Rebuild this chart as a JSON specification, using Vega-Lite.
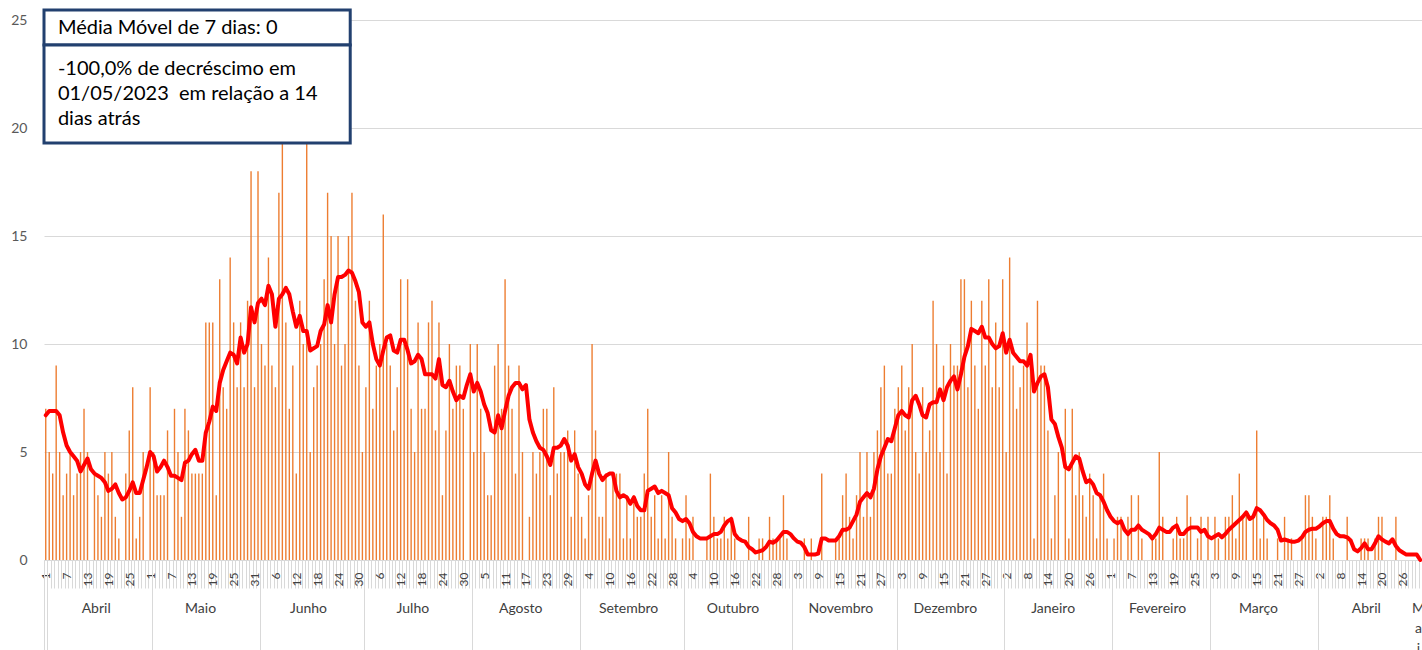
{
"$schema": "https://vega.github.io/schema/vega-lite/v6.json",
"width": 1378, "height": 540,
"autosize": "none",
"padding": {"left": 44, "top": 20, "right": 0, "bottom": 90},
"background": "white",
"config": {"view": {"stroke": null}, "font": "Lato"},
"resolve": {"axis": {"x": "independent"}},
"data": {"values": [
{"d":"2022-04-01","v":7,"m":6.7},{"d":"2022-04-02","v":5,"m":6.9},{"d":"2022-04-03","v":4,"m":6.9},{"d":"2022-04-04","v":9,"m":6.9},{"d":"2022-04-05","v":5,"m":6.7},{"d":"2022-04-06","v":3,"m":5.9},{"d":"2022-04-07","v":4,"m":5.3},{"d":"2022-04-08","v":5,"m":5.0},{"d":"2022-04-09","v":3,"m":4.8},{"d":"2022-04-10","v":4,"m":4.6},
{"d":"2022-04-11","v":5,"m":4.1},{"d":"2022-04-12","v":7,"m":4.4},{"d":"2022-04-13","v":5,"m":4.7},{"d":"2022-04-14","v":0,"m":4.2},{"d":"2022-04-15","v":4,"m":4.0},{"d":"2022-04-16","v":3,"m":3.9},{"d":"2022-04-17","v":2,"m":3.8},{"d":"2022-04-18","v":5,"m":3.6},{"d":"2022-04-19","v":4,"m":3.2},{"d":"2022-04-20","v":5,"m":3.3},
{"d":"2022-04-21","v":2,"m":3.5},{"d":"2022-04-22","v":1,"m":3.1},{"d":"2022-04-23","v":0,"m":2.8},{"d":"2022-04-24","v":4,"m":2.9},{"d":"2022-04-25","v":6,"m":3.2},{"d":"2022-04-26","v":8,"m":3.6},{"d":"2022-04-27","v":1,"m":3.1},{"d":"2022-04-28","v":2,"m":3.1},{"d":"2022-04-29","v":5,"m":3.7},{"d":"2022-04-30","v":0,"m":4.3},
{"d":"2022-05-01","v":8,"m":5.0},{"d":"2022-05-02","v":5,"m":4.8},{"d":"2022-05-03","v":3,"m":4.1},{"d":"2022-05-04","v":3,"m":4.3},{"d":"2022-05-05","v":3,"m":4.6},{"d":"2022-05-06","v":6,"m":4.3},{"d":"2022-05-07","v":0,"m":3.9},{"d":"2022-05-08","v":7,"m":3.9},{"d":"2022-05-09","v":5,"m":3.8},{"d":"2022-05-10","v":2,"m":3.7},
{"d":"2022-05-11","v":7,"m":4.5},{"d":"2022-05-12","v":6,"m":4.6},{"d":"2022-05-13","v":4,"m":4.9},{"d":"2022-05-14","v":4,"m":5.1},{"d":"2022-05-15","v":4,"m":4.6},{"d":"2022-05-16","v":4,"m":4.6},{"d":"2022-05-17","v":11,"m":5.9},{"d":"2022-05-18","v":11,"m":6.4},{"d":"2022-05-19","v":11,"m":7.1},{"d":"2022-05-20","v":3,"m":6.9},
{"d":"2022-05-21","v":13,"m":8.2},{"d":"2022-05-22","v":8,"m":8.8},{"d":"2022-05-23","v":7,"m":9.2},{"d":"2022-05-24","v":14,"m":9.6},{"d":"2022-05-25","v":11,"m":9.5},{"d":"2022-05-26","v":8,"m":9.1},{"d":"2022-05-27","v":11,"m":10.3},{"d":"2022-05-28","v":8,"m":9.6},{"d":"2022-05-29","v":12,"m":10.0},{"d":"2022-05-30","v":18,"m":11.7},{"d":"2022-05-31","v":8,"m":11.0},
{"d":"2022-06-01","v":18,"m":11.9},{"d":"2022-06-02","v":10,"m":12.1},{"d":"2022-06-03","v":9,"m":11.8},{"d":"2022-06-04","v":14,"m":12.7},{"d":"2022-06-05","v":9,"m":12.3},{"d":"2022-06-06","v":8,"m":10.8},{"d":"2022-06-07","v":17,"m":12.1},{"d":"2022-06-08","v":20,"m":12.3},{"d":"2022-06-09","v":11,"m":12.6},{"d":"2022-06-10","v":7,"m":12.3},
{"d":"2022-06-11","v":9,"m":11.5},{"d":"2022-06-12","v":4,"m":10.8},{"d":"2022-06-13","v":12,"m":11.3},{"d":"2022-06-14","v":10,"m":10.6},{"d":"2022-06-15","v":20,"m":10.6},{"d":"2022-06-16","v":5,"m":9.7},{"d":"2022-06-17","v":8,"m":9.8},{"d":"2022-06-18","v":9,"m":9.9},{"d":"2022-06-19","v":10,"m":10.6},{"d":"2022-06-20","v":13,"m":10.9},
{"d":"2022-06-21","v":17,"m":11.8},{"d":"2022-06-22","v":15,"m":11.0},{"d":"2022-06-23","v":10,"m":12.3},{"d":"2022-06-24","v":15,"m":13.1},{"d":"2022-06-25","v":9,"m":13.1},{"d":"2022-06-26","v":10,"m":13.2},{"d":"2022-06-27","v":15,"m":13.4},{"d":"2022-06-28","v":17,"m":13.3},{"d":"2022-06-29","v":12,"m":12.9},{"d":"2022-06-30","v":9,"m":12.4},
{"d":"2022-07-01","v":5,"m":11.0},{"d":"2022-07-02","v":8,"m":10.8},{"d":"2022-07-03","v":12,"m":11.0},{"d":"2022-07-04","v":7,"m":10.0},{"d":"2022-07-05","v":9,"m":9.3},{"d":"2022-07-06","v":10,"m":9.0},{"d":"2022-07-07","v":16,"m":9.7},{"d":"2022-07-08","v":10,"m":10.3},{"d":"2022-07-09","v":9,"m":10.4},{"d":"2022-07-10","v":6,"m":9.7},
{"d":"2022-07-11","v":8,"m":9.6},{"d":"2022-07-12","v":13,"m":10.2},{"d":"2022-07-13","v":10,"m":10.2},{"d":"2022-07-14","v":13,"m":9.7},{"d":"2022-07-15","v":7,"m":9.1},{"d":"2022-07-16","v":5,"m":9.2},{"d":"2022-07-17","v":11,"m":9.5},{"d":"2022-07-18","v":7,"m":9.3},{"d":"2022-07-19","v":7,"m":8.6},{"d":"2022-07-20","v":11,"m":8.6},
{"d":"2022-07-21","v":12,"m":8.6},{"d":"2022-07-22","v":6,"m":8.4},{"d":"2022-07-23","v":11,"m":9.3},{"d":"2022-07-24","v":3,"m":8.1},{"d":"2022-07-25","v":6,"m":8.0},{"d":"2022-07-26","v":10,"m":8.3},{"d":"2022-07-27","v":7,"m":7.8},{"d":"2022-07-28","v":9,"m":7.4},{"d":"2022-07-29","v":9,"m":7.6},{"d":"2022-07-30","v":7,"m":7.5},{"d":"2022-07-31","v":0,"m":8.1},
{"d":"2022-08-01","v":10,"m":8.6},{"d":"2022-08-02","v":5,"m":7.8},{"d":"2022-08-03","v":10,"m":8.2},{"d":"2022-08-04","v":7,"m":7.8},{"d":"2022-08-05","v":5,"m":7.2},{"d":"2022-08-06","v":3,"m":6.8},{"d":"2022-08-07","v":3,"m":6.0},{"d":"2022-08-08","v":9,"m":5.9},{"d":"2022-08-09","v":10,"m":6.7},{"d":"2022-08-10","v":7,"m":6.1},
{"d":"2022-08-11","v":13,"m":6.9},{"d":"2022-08-12","v":9,"m":7.6},{"d":"2022-08-13","v":7,"m":8.0},{"d":"2022-08-14","v":4,"m":8.2},{"d":"2022-08-15","v":9,"m":8.2},{"d":"2022-08-16","v":5,"m":7.9},{"d":"2022-08-17","v":0,"m":8.1},{"d":"2022-08-18","v":2,"m":6.5},{"d":"2022-08-19","v":5,"m":5.9},{"d":"2022-08-20","v":4,"m":5.5},
{"d":"2022-08-21","v":5,"m":5.2},{"d":"2022-08-22","v":7,"m":5.1},{"d":"2022-08-23","v":7,"m":4.8},{"d":"2022-08-24","v":3,"m":4.4},{"d":"2022-08-25","v":8,"m":5.2},{"d":"2022-08-26","v":4,"m":5.2},{"d":"2022-08-27","v":5,"m":5.3},{"d":"2022-08-28","v":5,"m":5.6},{"d":"2022-08-29","v":6,"m":5.3},{"d":"2022-08-30","v":2,"m":4.6},{"d":"2022-08-31","v":6,"m":4.9},
{"d":"2022-09-01","v":4,"m":4.3},{"d":"2022-09-02","v":2,"m":4.0},{"d":"2022-09-03","v":1,"m":3.5},{"d":"2022-09-04","v":3,"m":3.3},{"d":"2022-09-05","v":10,"m":4.0},{"d":"2022-09-06","v":6,"m":4.6},{"d":"2022-09-07","v":2,"m":4.0},{"d":"2022-09-08","v":2,"m":3.7},{"d":"2022-09-09","v":4,"m":3.9},{"d":"2022-09-10","v":1,"m":4.0},
{"d":"2022-09-11","v":4,"m":4.0},{"d":"2022-09-12","v":4,"m":3.2},{"d":"2022-09-13","v":4,"m":2.9},{"d":"2022-09-14","v":1,"m":3.0},{"d":"2022-09-15","v":3,"m":2.9},{"d":"2022-09-16","v":1,"m":2.6},{"d":"2022-09-17","v":3,"m":2.9},{"d":"2022-09-18","v":2,"m":2.5},{"d":"2022-09-19","v":2,"m":2.3},{"d":"2022-09-20","v":4,"m":2.3},
{"d":"2022-09-21","v":7,"m":3.2},{"d":"2022-09-22","v":2,"m":3.3},{"d":"2022-09-23","v":3,"m":3.4},{"d":"2022-09-24","v":1,"m":3.1},{"d":"2022-09-25","v":3,"m":3.2},{"d":"2022-09-26","v":1,"m":3.1},{"d":"2022-09-27","v":5,"m":3.0},{"d":"2022-09-28","v":2,"m":2.4},{"d":"2022-09-29","v":1,"m":2.2},{"d":"2022-09-30","v":0,"m":1.9},
{"d":"2022-10-01","v":1,"m":1.8},{"d":"2022-10-02","v":3,"m":1.9},{"d":"2022-10-03","v":1,"m":1.7},{"d":"2022-10-04","v":2,"m":1.3},{"d":"2022-10-05","v":0,"m":1.1},{"d":"2022-10-06","v":0,"m":1.0},{"d":"2022-10-07","v":0,"m":1.0},{"d":"2022-10-08","v":1,"m":1.0},{"d":"2022-10-09","v":4,"m":1.1},{"d":"2022-10-10","v":2,"m":1.2},
{"d":"2022-10-11","v":1,"m":1.2},{"d":"2022-10-12","v":1,"m":1.3},{"d":"2022-10-13","v":2,"m":1.6},{"d":"2022-10-14","v":1,"m":1.8},{"d":"2022-10-15","v":2,"m":1.9},{"d":"2022-10-16","v":1,"m":1.2},{"d":"2022-10-17","v":0,"m":1.0},{"d":"2022-10-18","v":0,"m":0.9},{"d":"2022-10-19","v":0,"m":0.85},{"d":"2022-10-20","v":2,"m":0.6},
{"d":"2022-10-21","v":0,"m":0.5},{"d":"2022-10-22","v":0,"m":0.35},{"d":"2022-10-23","v":1,"m":0.4},{"d":"2022-10-24","v":1,"m":0.45},{"d":"2022-10-25","v":0,"m":0.6},{"d":"2022-10-26","v":2,"m":0.85},{"d":"2022-10-27","v":1,"m":0.8},{"d":"2022-10-28","v":1,"m":0.9},{"d":"2022-10-29","v":1,"m":1.1},{"d":"2022-10-30","v":3,"m":1.3},{"d":"2022-10-31","v":1,"m":1.3},
{"d":"2022-11-01","v":0,"m":1.2},{"d":"2022-11-02","v":0,"m":1.0},{"d":"2022-11-03","v":0,"m":0.85},{"d":"2022-11-04","v":0,"m":0.8},{"d":"2022-11-05","v":1,"m":0.6},{"d":"2022-11-06","v":0,"m":0.25},{"d":"2022-11-07","v":1,"m":0.25},{"d":"2022-11-08","v":0,"m":0.25},{"d":"2022-11-09","v":0,"m":0.3},{"d":"2022-11-10","v":4,"m":1.0},
{"d":"2022-11-11","v":0,"m":1.0},{"d":"2022-11-12","v":0,"m":0.9},{"d":"2022-11-13","v":0,"m":0.9},{"d":"2022-11-14","v":1,"m":0.9},{"d":"2022-11-15","v":1,"m":1.1},{"d":"2022-11-16","v":3,"m":1.4},{"d":"2022-11-17","v":4,"m":1.4},{"d":"2022-11-18","v":2,"m":1.5},{"d":"2022-11-19","v":1,"m":1.8},{"d":"2022-11-20","v":3,"m":2.1},
{"d":"2022-11-21","v":5,"m":2.7},{"d":"2022-11-22","v":2,"m":2.9},{"d":"2022-11-23","v":5,"m":3.1},{"d":"2022-11-24","v":2,"m":2.9},{"d":"2022-11-25","v":5,"m":3.3},{"d":"2022-11-26","v":6,"m":4.2},{"d":"2022-11-27","v":8,"m":4.8},{"d":"2022-11-28","v":9,"m":5.2},{"d":"2022-11-29","v":4,"m":5.6},{"d":"2022-11-30","v":4,"m":5.5},
{"d":"2022-12-01","v":7,"m":6.1},{"d":"2022-12-02","v":8,"m":6.7},{"d":"2022-12-03","v":9,"m":6.9},{"d":"2022-12-04","v":6,"m":6.7},{"d":"2022-12-05","v":8,"m":6.6},{"d":"2022-12-06","v":10,"m":7.4},{"d":"2022-12-07","v":5,"m":7.6},{"d":"2022-12-08","v":4,"m":7.2},{"d":"2022-12-09","v":8,"m":6.7},{"d":"2022-12-10","v":5,"m":6.6},
{"d":"2022-12-11","v":6,"m":7.2},{"d":"2022-12-12","v":12,"m":7.3},{"d":"2022-12-13","v":10,"m":7.3},{"d":"2022-12-14","v":5,"m":7.9},{"d":"2022-12-15","v":9,"m":7.4},{"d":"2022-12-16","v":4,"m":8.0},{"d":"2022-12-17","v":10,"m":8.3},{"d":"2022-12-18","v":9,"m":8.5},{"d":"2022-12-19","v":9,"m":7.9},{"d":"2022-12-20","v":13,"m":8.6},
{"d":"2022-12-21","v":13,"m":9.4},{"d":"2022-12-22","v":8,"m":9.9},{"d":"2022-12-23","v":12,"m":10.7},{"d":"2022-12-24","v":9,"m":10.6},{"d":"2022-12-25","v":7,"m":10.5},{"d":"2022-12-26","v":12,"m":10.8},{"d":"2022-12-27","v":9,"m":10.3},{"d":"2022-12-28","v":13,"m":10.3},{"d":"2022-12-29","v":8,"m":10.0},{"d":"2022-12-30","v":11,"m":9.8},{"d":"2022-12-31","v":8,"m":9.9},
{"d":"2023-01-01","v":13,"m":10.5},{"d":"2023-01-02","v":5,"m":9.6},{"d":"2023-01-03","v":14,"m":10.2},{"d":"2023-01-04","v":9,"m":9.6},{"d":"2023-01-05","v":7,"m":9.4},{"d":"2023-01-06","v":8,"m":9.2},{"d":"2023-01-07","v":9,"m":9.2},{"d":"2023-01-08","v":11,"m":9.0},{"d":"2023-01-09","v":9,"m":9.5},{"d":"2023-01-10","v":1,"m":7.8},
{"d":"2023-01-11","v":12,"m":8.2},{"d":"2023-01-12","v":9,"m":8.5},{"d":"2023-01-13","v":9,"m":8.6},{"d":"2023-01-14","v":6,"m":8.0},{"d":"2023-01-15","v":1,"m":6.5},{"d":"2023-01-16","v":3,"m":6.3},{"d":"2023-01-17","v":5,"m":5.7},{"d":"2023-01-18","v":0,"m":5.2},{"d":"2023-01-19","v":7,"m":4.3},{"d":"2023-01-20","v":1,"m":4.2},
{"d":"2023-01-21","v":7,"m":4.5},{"d":"2023-01-22","v":3,"m":4.8},{"d":"2023-01-23","v":5,"m":4.7},{"d":"2023-01-24","v":3,"m":4.1},{"d":"2023-01-25","v":2,"m":3.6},{"d":"2023-01-26","v":4,"m":3.7},{"d":"2023-01-27","v":3,"m":3.5},{"d":"2023-01-28","v":1,"m":3.1},{"d":"2023-01-29","v":3,"m":3.0},{"d":"2023-01-30","v":4,"m":2.7},{"d":"2023-01-31","v":1,"m":2.3},
{"d":"2023-02-01","v":0,"m":2.0},{"d":"2023-02-02","v":1,"m":1.8},{"d":"2023-02-03","v":2,"m":1.7},{"d":"2023-02-04","v":2,"m":1.8},{"d":"2023-02-05","v":0,"m":1.4},{"d":"2023-02-06","v":2,"m":1.2},{"d":"2023-02-07","v":3,"m":1.4},{"d":"2023-02-08","v":0,"m":1.4},{"d":"2023-02-09","v":3,"m":1.6},{"d":"2023-02-10","v":1,"m":1.4},
{"d":"2023-02-11","v":0,"m":1.3},{"d":"2023-02-12","v":0,"m":1.2},{"d":"2023-02-13","v":1,"m":1.0},{"d":"2023-02-14","v":1,"m":1.2},{"d":"2023-02-15","v":5,"m":1.5},{"d":"2023-02-16","v":2,"m":1.4},{"d":"2023-02-17","v":0,"m":1.3},{"d":"2023-02-18","v":0,"m":1.3},{"d":"2023-02-19","v":1,"m":1.5},{"d":"2023-02-20","v":2,"m":1.6},
{"d":"2023-02-21","v":1,"m":1.2},{"d":"2023-02-22","v":1,"m":1.2},{"d":"2023-02-23","v":3,"m":1.4},{"d":"2023-02-24","v":2,"m":1.5},{"d":"2023-02-25","v":0,"m":1.5},{"d":"2023-02-26","v":1,"m":1.5},{"d":"2023-02-27","v":2,"m":1.3},{"d":"2023-02-28","v":0,"m":1.4},
{"d":"2023-03-01","v":2,"m":1.1},{"d":"2023-03-02","v":0,"m":1.0},{"d":"2023-03-03","v":2,"m":1.1},{"d":"2023-03-04","v":1,"m":1.2},{"d":"2023-03-05","v":0,"m":1.05},{"d":"2023-03-06","v":2,"m":1.2},{"d":"2023-03-07","v":2,"m":1.4},{"d":"2023-03-08","v":3,"m":1.55},{"d":"2023-03-09","v":1,"m":1.7},{"d":"2023-03-10","v":4,"m":1.85},
{"d":"2023-03-11","v":2,"m":2.0},{"d":"2023-03-12","v":2,"m":2.2},{"d":"2023-03-13","v":0,"m":1.9},{"d":"2023-03-14","v":2,"m":2.0},{"d":"2023-03-15","v":6,"m":2.4},{"d":"2023-03-16","v":1,"m":2.3},{"d":"2023-03-17","v":2,"m":2.1},{"d":"2023-03-18","v":1,"m":1.85},{"d":"2023-03-19","v":0,"m":1.7},{"d":"2023-03-20","v":0,"m":1.6},
{"d":"2023-03-21","v":1,"m":1.4},{"d":"2023-03-22","v":0,"m":0.9},{"d":"2023-03-23","v":2,"m":0.95},{"d":"2023-03-24","v":1,"m":0.9},{"d":"2023-03-25","v":1,"m":0.85},{"d":"2023-03-26","v":0,"m":0.85},{"d":"2023-03-27","v":0,"m":0.9},{"d":"2023-03-28","v":1,"m":1.05},{"d":"2023-03-29","v":3,"m":1.3},{"d":"2023-03-30","v":3,"m":1.4},{"d":"2023-03-31","v":2,"m":1.45},
{"d":"2023-04-01","v":1,"m":1.45},{"d":"2023-04-02","v":0,"m":1.55},{"d":"2023-04-03","v":2,"m":1.7},{"d":"2023-04-04","v":2,"m":1.8},{"d":"2023-04-05","v":3,"m":1.8},{"d":"2023-04-06","v":1,"m":1.45},{"d":"2023-04-07","v":0,"m":1.2},{"d":"2023-04-08","v":0,"m":1.1},{"d":"2023-04-09","v":0,"m":1.1},{"d":"2023-04-10","v":2,"m":1.05},
{"d":"2023-04-11","v":0,"m":0.9},{"d":"2023-04-12","v":0,"m":0.5},{"d":"2023-04-13","v":0,"m":0.4},{"d":"2023-04-14","v":1,"m":0.55},{"d":"2023-04-15","v":1,"m":0.77},{"d":"2023-04-16","v":1,"m":0.5},{"d":"2023-04-17","v":0,"m":0.5},{"d":"2023-04-18","v":1,"m":0.77},{"d":"2023-04-19","v":2,"m":1.1},{"d":"2023-04-20","v":2,"m":0.95},
{"d":"2023-04-21","v":0,"m":0.85},{"d":"2023-04-22","v":0,"m":0.77},{"d":"2023-04-23","v":0,"m":0.96},{"d":"2023-04-24","v":2,"m":0.65},{"d":"2023-04-25","v":0,"m":0.45},{"d":"2023-04-26","v":0,"m":0.35},{"d":"2023-04-27","v":0,"m":0.25},{"d":"2023-04-28","v":0,"m":0.25},{"d":"2023-04-29","v":0,"m":0.25},{"d":"2023-04-30","v":0,"m":0.25},
{"d":"2023-05-01","v":0,"m":0}
]},
"layer": [
{
"mark": {"type": "bar", "color": "#ED7D31", "width": {"band": 0.4}},
"encoding": {
"x": {"field": "d", "type": "ordinal", "title": null,
"scale": {"type": "band", "paddingInner": 0, "paddingOuter": 0},
"axis": {"labelExpr": "(round((toDate(datum.value) - toDate('2022-04-01')) / 86400000) % 6 == 0) ? ('' + toNumber(substring(datum.value, 8, 10))) : ''",
"labelAngle": 270, "labelAlign": "right", "labelBaseline": "middle", "labelFont": "Lato", "labelFontSize": 12, "labelColor": "#404040",
"labelPadding": -16, "labelOverlap": false, "labelBound": false, "ticks": true, "tickSize": 28, "tickColor": "#D9D9D9", "tickWidth": 1, "tickBand": "extent",
"domain": true, "domainColor": "#D9D9D9", "domainWidth": 1, "orient": "bottom", "grid": false}},
"y": {"field": "v", "type": "quantitative", "title": null,
"scale": {"domain": [0, 25], "nice": false},
"axis": {"values": [0, 5, 10, 15, 20, 25], "grid": true, "gridColor": "#D9D9D9", "gridWidth": 1, "domain": false, "ticks": false,
"labelPadding": 17, "labelFont": "Lato", "labelFontSize": 14, "labelColor": "#595959"}}
}
},
{
"mark": {"type": "line", "color": "#FF0000", "strokeWidth": 4, "strokeJoin": "round", "strokeCap": "round"},
"encoding": {
"x": {"field": "d", "type": "ordinal", "title": null, "bandPosition": 0.5,
"scale": {"type": "band", "paddingInner": 0, "paddingOuter": 0},
"axis": {"values": ["2022-04-01","2022-05-01","2022-06-01","2022-07-01","2022-08-01","2022-09-01","2022-10-01","2022-11-01","2022-12-01","2023-01-01","2023-02-01","2023-03-01","2023-04-01","2023-05-01"],
"labels": false, "domain": false, "ticks": true, "tickSize": 90, "tickColor": "#D9D9D9", "tickWidth": 1, "tickBand": "extent", "orient": "bottom", "grid": false}},
"y": {"field": "m", "type": "quantitative", "title": null, "scale": {"domain": [0, 25], "nice": false}}
}
},
{
"data": {"values": [{"box": "valor"}]},
"mark": {"type": "rect", "fill": "white", "stroke": "#22406F", "strokeWidth": 3},
"encoding": {
"x": {"datum": "2022-04-01", "type": "ordinal", "bandPosition": 0, "title": null,
"scale": {"type": "band", "paddingInner": 0, "paddingOuter": 0},
"axis": {"values": ["2022-04-16","2022-05-16","2022-06-16","2022-07-16","2022-08-16","2022-09-16","2022-10-16","2022-11-16","2022-12-16","2023-01-16","2023-02-15","2023-03-16","2023-04-16","2023-05-01"],
"labelExpr": "datum.value == '2023-05-01' ? ['M','a','i','o'] : ['Janeiro','Fevereiro','Março','Abril','Maio','Junho','Julho','Agosto','Setembro','Outubro','Novembro','Dezembro'][toNumber(substring(datum.value, 5, 7)) - 1]",
"ticks": false, "domain": false, "labelPadding": 41, "labelBaseline": "top", "labelAngle": 0, "labelAlign": "center", "labelOffset": -1.74,
"labelFont": "Lato", "labelFontSize": 14, "labelColor": "#404040", "labelLineHeight": 20, "labelOverlap": false, "labelBound": false, "orient": "bottom", "grid": false}},
"x2": {"datum": "2022-06-28", "bandPosition": 0},
"y": {"datum": 25.46, "type": "quantitative", "title": null, "scale": {"domain": [0, 25], "nice": false}},
"y2": {"datum": 23.84}
}
},
{
"data": {"values": [{"box": "variacao"}]},
"mark": {"type": "rect", "fill": "white", "stroke": "#22406F", "strokeWidth": 3},
"encoding": {
"x": {"datum": "2022-04-01", "type": "ordinal", "bandPosition": 0, "title": null,
"scale": {"type": "band", "paddingInner": 0, "paddingOuter": 0}, "axis": null},
"x2": {"datum": "2022-06-28", "bandPosition": 0},
"y": {"datum": 23.84, "type": "quantitative", "title": null, "scale": {"domain": [0, 25], "nice": false}},
"y2": {"datum": 19.31}
}
},
{
"data": {"values": [{"t": "Média Móvel de 7 dias: 0"}]},
"mark": {"type": "text", "align": "left", "baseline": "middle", "font": "Lato", "fontSize": 20, "color": "#000000"},
"encoding": {
"x": {"datum": "2022-04-05", "type": "ordinal", "bandPosition": 0, "title": null,
"scale": {"type": "band", "paddingInner": 0, "paddingOuter": 0}, "axis": null},
"y": {"datum": 24.63, "type": "quantitative", "title": null, "scale": {"domain": [0, 25], "nice": false}},
"text": {"field": "t"}
}
},
{
"data": {"values": [{"t": "-100,0% de decréscimo em\n01/05/2023\u00a0 em relação a 14\ndias atrás"}]},
"mark": {"type": "text", "align": "left", "baseline": "middle", "font": "Lato", "fontSize": 20, "color": "#000000", "lineBreak": "\n", "lineHeight": 25},
"encoding": {
"x": {"datum": "2022-04-05", "type": "ordinal", "bandPosition": 0, "title": null,
"scale": {"type": "band", "paddingInner": 0, "paddingOuter": 0}, "axis": null},
"y": {"datum": 22.73, "type": "quantitative", "title": null, "scale": {"domain": [0, 25], "nice": false}},
"text": {"field": "t"}
}
}
]
}
